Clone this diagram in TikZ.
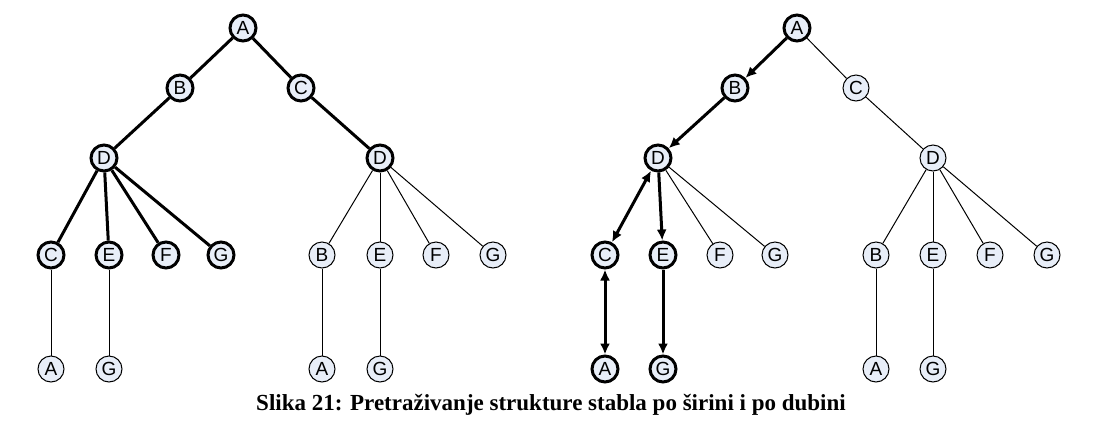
\documentclass[tikz,border=0pt]{standalone}
\usepackage{fontspec}
\setmainfont{Liberation Serif}
\newfontfamily\nodefont{Liberation Sans}
\usepackage{tikz}
\usetikzlibrary{positioning,calc,arrows.meta}
\definecolor{nodefill}{RGB}{232,238,248}

\begin{document}
\begin{tikzpicture}[x=1pt,y=-1pt]
 \coordinate (origo) at (0,0);
 \useasboundingbox (origo) rectangle (1093,440);

\tikzstyle{vertex}=[circle,draw,fill=nodefill,inner sep=0pt,minimum size=26pt,line width=1pt,font=\nodefont\fontsize{19}{19}\selectfont]
\tikzstyle{visited}=[vertex,line width=3pt]
\tikzstyle{edge}=[line width=1pt]
\tikzstyle{walk}=[line width=3pt]
\tikzstyle{tip}=[-{Latex[length=11pt,width=10pt]}]
\tikzstyle{tips}=[{Latex[length=11pt,width=10pt]}-{Latex[length=11pt,width=10pt]}]

   %breadth first tree (left)
    \node (sA) [visited] at (243,28) {A};
    \node (sB) [visited] at (180,88) {B};
    \node (sC) [visited] at (301,88) {C};
    \node (sD1) [visited] at (104,158) {D};
    \node (sD2) [visited] at (380,158) {D};
    \node (sC1) [visited] at (51,255) {C};
    \node (sE1) [visited] at (109,255) {E};
    \node (sF1) [visited] at (166,255) {F};
    \node (sG1) [visited] at (221,255) {G};
    \node (sB2) [vertex] at (322,255) {B};
    \node (sE2) [vertex] at (380,255) {E};
    \node (sF2) [vertex] at (436,255) {F};
    \node (sG2) [vertex] at (493,255) {G};
    \node (sA3) [vertex] at (51,369) {A};
    \node (sG3) [vertex] at (109,369) {G};
    \node (sA4) [vertex] at (322,369) {A};
    \node (sG4) [vertex] at (380,369) {G};

    \draw [walk] (sA) -- (sB);
    \draw [walk] (sA) -- (sC);
    \draw [walk] (sB) -- (sD1);
    \draw [walk] (sC) -- (sD2);
    \draw [walk] (sD1) -- (sC1);
    \draw [walk] (sD1) -- (sE1);
    \draw [walk] (sD1) -- (sF1);
    \draw [walk] (sD1) -- (sG1);
    \draw [edge] (sD2) -- (sB2);
    \draw [edge] (sD2) -- (sE2);
    \draw [edge] (sD2) -- (sF2);
    \draw [edge] (sD2) -- (sG2);
    \draw [edge] (sC1) -- (sA3);
    \draw [edge] (sE1) -- (sG3);
    \draw [edge] (sB2) -- (sA4);
    \draw [edge] (sE2) -- (sG4);

   %depth first tree (right)
    \node (dA) [visited] at (797,28) {A};
    \node (dB) [visited] at (735,88) {B};
    \node (dC) [vertex] at (856,88) {C};
    \node (dD1) [visited] at (658,158) {D};
    \node (dD2) [vertex] at (933,158) {D};
    \node (dC1) [visited] at (605,255) {C};
    \node (dE1) [visited] at (663,255) {E};
    \node (dF1) [vertex] at (720,255) {F};
    \node (dG1) [vertex] at (775,255) {G};
    \node (dB2) [vertex] at (876,255) {B};
    \node (dE2) [vertex] at (933,255) {E};
    \node (dF2) [vertex] at (990,255) {F};
    \node (dG2) [vertex] at (1047,255) {G};
    \node (dA3) [visited] at (605,369) {A};
    \node (dG3) [visited] at (663,369) {G};
    \node (dA4) [vertex] at (876,369) {A};
    \node (dG4) [vertex] at (933,369) {G};

    \draw [walk,tip] (dA) -- (dB);
    \draw [edge] (dA) -- (dC);
    \draw [walk,tip] (dB) -- (dD1);
    \draw [edge] (dC) -- (dD2);
    \draw [walk,tips] (dD1) -- (dC1);
    \draw [walk,tip] (dD1) -- (dE1);
    \draw [edge] (dD1) -- (dF1);
    \draw [edge] (dD1) -- (dG1);
    \draw [edge] (dD2) -- (dB2);
    \draw [edge] (dD2) -- (dE2);
    \draw [edge] (dD2) -- (dF2);
    \draw [edge] (dD2) -- (dG2);
    \draw [walk,tips] (dC1) -- (dA3);
    \draw [walk,tip] (dE1) -- (dG3);
    \draw [edge] (dB2) -- (dA4);
    \draw [edge] (dE2) -- (dG4);

   %caption
    \node (caption) at (551,405) {\fontsize{23}{27}\selectfont\bfseries Slika 21: Pretraživanje strukture stabla po širini i po dubini};

\end{tikzpicture}
\end{document}
